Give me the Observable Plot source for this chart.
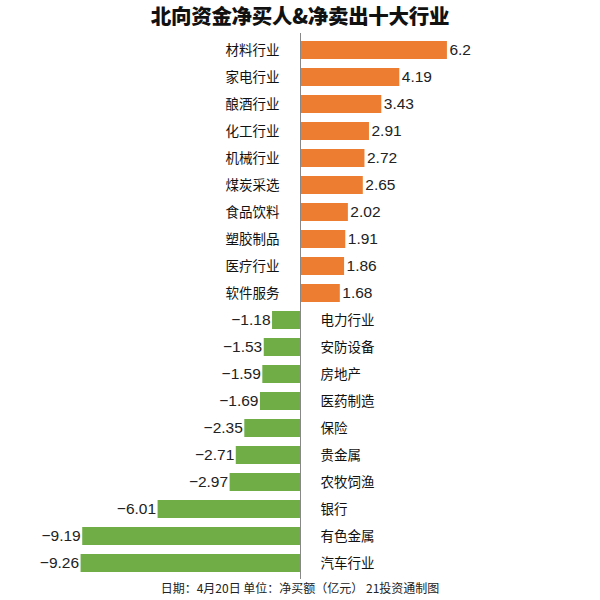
<!DOCTYPE html>
<html>
<head>
<meta charset="utf-8">
<script src="https://cdn.jsdelivr.net/npm/d3@7"></script>
<script src="https://cdn.jsdelivr.net/npm/@observablehq/plot@0.6"></script>
<style>
  body { margin: 0; background: #fff; font-family: "Liberation Sans", "Noto Sans CJK SC", sans-serif; }
  #wrap { width: 600px; height: 600px; position: relative; }
  #title { height: 30px; line-height: 30px; text-align: center; font-size: 20.5px; font-weight: 900; color: #111;
           font-family: "Noto Sans CJK SC", sans-serif; letter-spacing: -0.3px; }
  #footer { text-align: center; font-size: 12px; color: #222; font-family: "Noto Sans CJK SC", sans-serif; margin-top: 0px; }
  svg { display: block; }
</style>
</head>
<body>
<div id="wrap">
  <div id="title">北向资金净买人&amp;净卖出十大行业</div>
  <div id="chart"></div>
  <div id="footer">日期：4月20日 单位：净买额（亿元） 21投资通制图</div>
</div>
<script>
const industries = ["材料行业","家电行业","酿酒行业","化工行业","机械行业","煤炭采选","食品饮料","塑胶制品","医疗行业","软件服务",
                    "电力行业","安防设备","房地产","医药制造","保险","贵金属","农牧饲渔","银行","有色金属","汽车行业"];
const netValues = [6.2, 4.19, 3.43, 2.91, 2.72, 2.65, 2.02, 1.91, 1.86, 1.68,
                   -1.18, -1.53, -1.59, -1.69, -2.35, -2.71, -2.97, -6.01, -9.19, -9.26];

const data = industries.map((name, i) => ({name, value: netValues[i]}));
const fmt = v => (v < 0 ? "\u2212" : "") + String(Math.abs(v));
const pos = data.filter(d => d.value >= 0);
const neg = data.filter(d => d.value < 0);
const font = "'Liberation Sans', 'Noto Sans CJK SC', sans-serif";

const chart = Plot.plot({
  width: 600,
  height: 549,
  marginTop: 3,
  marginBottom: 0,
  marginLeft: 0,
  marginRight: 0,
  style: {fontFamily: font, fontSize: "13px", background: "white"},
  x: {domain: [-12.66, 12.66], axis: null},
  y: {domain: industries, axis: null, paddingInner: 0.35, paddingOuter: 0.1},
  marks: [
    Plot.barX(data, {x: "value", y: "name", fill: d => d.value >= 0 ? "#ED7D31" : "#70AD47"}),
    Plot.ruleX([0], {stroke: "#888", strokeWidth: 1}),
    Plot.text(pos, {x: 0, y: "name", text: "name", textAnchor: "end", dx: -21, fill: "#111", fontSize: 13.5}),
    Plot.text(neg, {x: 0, y: "name", text: "name", textAnchor: "start", dx: 20, fill: "#111", fontSize: 13.5}),
    Plot.text(pos, {x: "value", y: "name", text: d => fmt(d.value), textAnchor: "start", dx: 2, fill: "#222", fontSize: 15.5}),
    Plot.text(neg, {x: "value", y: "name", text: d => fmt(d.value), textAnchor: "end", dx: -2, fill: "#222", fontSize: 15.5})
  ]
});
document.getElementById("chart").appendChild(chart);
</script>
</body>
</html>
